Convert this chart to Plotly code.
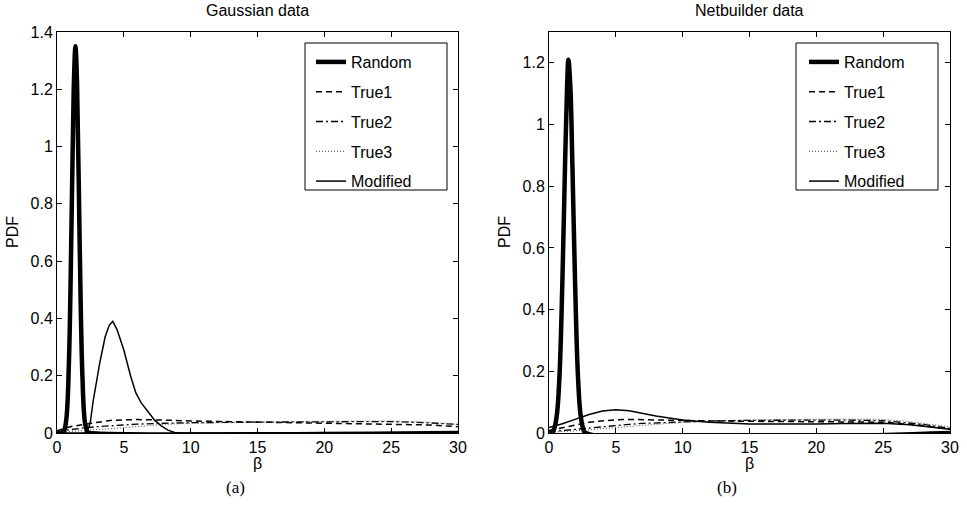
import plotly.graph_objects as go

# ---------------- data ----------------
# (a) Gaussian data
a_random_x = [0, 0.3, 0.5, 0.7, 0.9, 1.1, 1.25, 1.38, 1.5, 1.7, 1.9, 2.1, 2.3, 2.5, 30]
a_random_y = [0, 0.0, 0.005, 0.05, 0.26, 0.77, 1.2, 1.35, 1.22, 0.65, 0.2, 0.034, 0.003, 0, 0]

a_mod_x = [0, 2.0, 2.3, 2.5, 2.7, 3.0, 3.2, 3.6, 3.9, 4.17, 4.5, 5.0, 5.5, 5.9, 6.3, 6.8, 7.3, 7.8, 8.3, 8.8, 9.2, 30]
a_mod_y = [0, 0, 0.008, 0.04, 0.11, 0.19, 0.245, 0.335, 0.375, 0.39, 0.36, 0.29, 0.2, 0.14, 0.105, 0.075, 0.045, 0.025, 0.01, 0.002, 0, 0]

a_t_x = [0, 1, 2, 3, 4, 5, 6, 8, 10, 15, 20, 25, 28, 30]
a_true1_y = [0.008, 0.022, 0.03, 0.038, 0.044, 0.046, 0.047, 0.045, 0.042, 0.038, 0.035, 0.032, 0.028, 0.022]
a_true2_y = [0.005, 0.012, 0.018, 0.022, 0.025, 0.028, 0.031, 0.034, 0.036, 0.038, 0.04, 0.04, 0.035, 0.03]
a_true3_y = [0.002, 0.006, 0.009, 0.012, 0.015, 0.019, 0.023, 0.03, 0.034, 0.038, 0.041, 0.042, 0.037, 0.03]

# (b) Netbuilder data
b_random_x = [0, 0.2, 0.4, 0.6, 0.8, 1.0, 1.2, 1.35, 1.45, 1.6, 1.75, 1.95, 2.15, 2.35, 2.55, 2.75, 30]
b_random_y = [0, 0.0, 0.015, 0.063, 0.2, 0.49, 0.87, 1.12, 1.21, 1.12, 0.87, 0.49, 0.2, 0.063, 0.015, 0, 0]

b_t_x = [0, 1, 2, 3, 4, 5, 6, 7, 8, 10, 12, 15, 18, 20, 22, 25, 27, 28, 30]
b_mod_y = [0.018, 0.03, 0.045, 0.06, 0.071, 0.075, 0.072, 0.064, 0.055, 0.042, 0.035, 0.029, 0.028, 0.029, 0.031, 0.032, 0.027, 0.022, 0.012]
b_true1_y = [0.008, 0.016, 0.026, 0.035, 0.04, 0.043, 0.044, 0.043, 0.042, 0.04, 0.039, 0.038, 0.037, 0.037, 0.037, 0.035, 0.028, 0.024, 0.012]
b_true2_y = [0.004, 0.008, 0.013, 0.018, 0.022, 0.025, 0.028, 0.031, 0.033, 0.037, 0.039, 0.041, 0.042, 0.042, 0.042, 0.04, 0.033, 0.028, 0.015]
b_true3_y = [0.002, 0.004, 0.007, 0.01, 0.014, 0.018, 0.022, 0.025, 0.028, 0.034, 0.038, 0.042, 0.044, 0.045, 0.045, 0.044, 0.037, 0.031, 0.02]

names = ["Random", "True1", "True2", "True3", "Modified"]
panel_titles = ["Gaussian data", "Netbuilder data"]
panel_tags = ["(a)", "(b)"]

FONT = "Liberation Sans, Arial, Helvetica, sans-serif"
W, H = 967, 519

styles = {
    "Random": dict(color="black", width=4.5, dash="solid"),
    "True1": dict(color="black", width=1.5, dash="6px,4px"),
    "True2": dict(color="black", width=1.3, dash="7px,3px,2px,3px"),
    "True3": dict(color="#444444", width=1.0, dash="1px,2px"),
    "Modified": dict(color="black", width=1.5, dash="solid"),
}

fig = go.Figure()

panels = [
    ("x", "y", "legend", [
        ("Random", a_random_x, a_random_y),
        ("True1", a_t_x, a_true1_y),
        ("True2", a_t_x, a_true2_y),
        ("True3", a_t_x, a_true3_y),
        ("Modified", a_mod_x, a_mod_y),
    ]),
    ("x2", "y2", "legend2", [
        ("Random", b_random_x, b_random_y),
        ("True1", b_t_x, b_true1_y),
        ("True2", b_t_x, b_true2_y),
        ("True3", b_t_x, b_true3_y),
        ("Modified", b_t_x, b_mod_y),
    ]),
]

for xa, ya, lg, series in panels:
    for name, xs, ys in series:
        fig.add_trace(go.Scatter(
            x=xs, y=ys, mode="lines", name=name, line=styles[name],
            xaxis=xa, yaxis=ya, legend=lg, legendgroup=lg + name,
            line_shape="spline" if name == "Random" else "linear",
        ))

def px_x(p):
    return p / W

def px_y(p):
    return 1 - p / H

axis_common = dict(
    showline=True, linecolor="black", linewidth=1, mirror="ticks",
    ticks="inside", ticklen=5, tickcolor="black", tickwidth=1,
    showgrid=False, zeroline=False, automargin=False,
    tickfont=dict(family=FONT, size=16, color="black"),
)

xdom1 = [px_x(57), px_x(458)]
xdom2 = [px_x(549), px_x(950)]
ydom = [px_y(433), px_y(32)]

legend_common = dict(xanchor="left", yanchor="top",
                     borderwidth=0, bgcolor="rgba(0,0,0,0)",
                     font=dict(family=FONT, size=16), tracegroupgap=6)

# opaque legend boxes (MATLAB style)
shapes = []
for x0, x1 in [(305, 447), (796, 938)]:
    shapes.append(dict(type="rect", xref="paper", yref="paper",
                       x0=px_x(x0), x1=px_x(x1), y0=px_y(190), y1=px_y(43),
                       line=dict(color="black", width=1), fillcolor="white", layer="above"))

fig.update_layout(
    width=W, height=H,
    margin=dict(l=0, r=0, t=0, b=0, autoexpand=False),
    paper_bgcolor="white", plot_bgcolor="white",
    font=dict(family=FONT, size=16, color="black"),
    xaxis=dict(domain=xdom1, range=[0, 30], tickvals=[0, 5, 10, 15, 20, 25, 30], anchor="y", **axis_common),
    yaxis=dict(domain=ydom, range=[0, 1.4], tickvals=[0, 0.2, 0.4, 0.6, 0.8, 1, 1.2, 1.4],
               ticktext=["0", "0.2", "0.4", "0.6", "0.8", "1", "1.2", "1.4"], anchor="x", **axis_common),
    xaxis2=dict(domain=xdom2, range=[0, 30], tickvals=[0, 5, 10, 15, 20, 25, 30], anchor="y2", **axis_common),
    yaxis2=dict(domain=ydom, range=[0, 1.3], tickvals=[0, 0.2, 0.4, 0.6, 0.8, 1, 1.2],
                ticktext=["0", "0.2", "0.4", "0.6", "0.8", "1", "1.2"], anchor="x2", **axis_common),
    legend=dict(x=px_x(311), y=px_y(45), **legend_common),
    legend2=dict(x=px_x(804), y=px_y(45), **legend_common),
    showlegend=True,
    shapes=shapes,
)

centers = [257, 749]
ylab_x = [12, 504]
annos = []
for i in range(2):
    common = dict(xref="paper", yref="paper", showarrow=False, xanchor="center", yanchor="middle")
    annos.append(dict(text=panel_titles[i], x=px_x(centers[i]), y=px_y(11),
                      font=dict(family=FONT, size=16), **common))
    annos.append(dict(text="β", x=px_x(centers[i]), y=px_y(463),
                      font=dict(family=FONT, size=16), **common))
    annos.append(dict(text="PDF", x=px_x(ylab_x[i]), y=px_y(232), textangle=-90,
                      font=dict(family=FONT, size=16), **common))
    annos.append(dict(text=panel_tags[i], x=px_x(centers[i] - 22), y=px_y(487),
                      font=dict(family="Liberation Serif, DejaVu Serif, serif", size=17), **common))
fig.update_layout(annotations=annos)

fig.write_html("out.html", config={"displayModeBar": False},
               post_script="document.body.style.margin='0';document.body.style.padding='0';")
